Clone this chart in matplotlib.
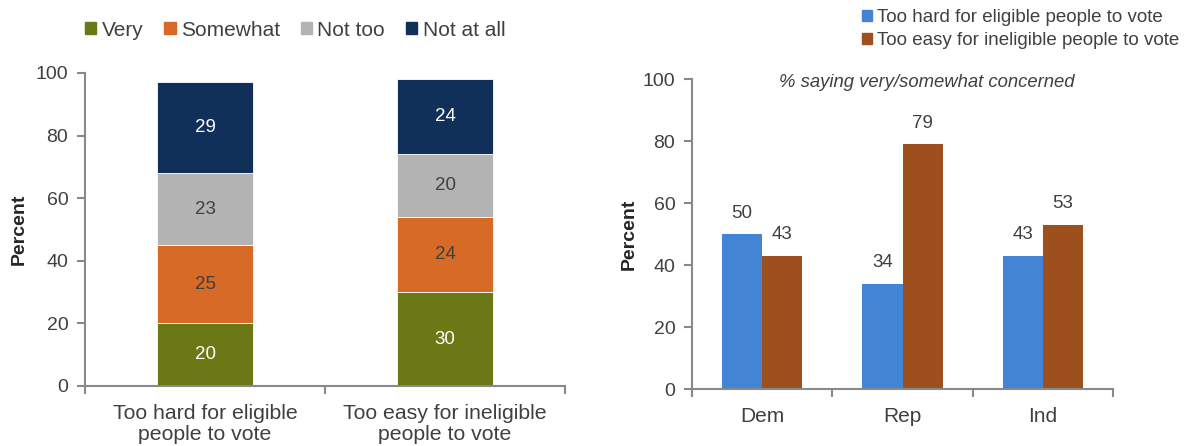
import matplotlib.pyplot as plt
from matplotlib.patches import Patch
import numpy as np

plt.rcParams['font.family'] = ['Liberation Sans', 'DejaVu Sans']

# left chart: how concerned
questions = ['Too hard for eligible\npeople to vote', 'Too easy for ineligible\npeople to vote']
levels = ['Very', 'Somewhat', 'Not too', 'Not at all']
very = [20, 30]
somewhat = [25, 24]
not_too = [23, 20]
not_at_all = [29, 24]
level_colors = ['#6a7815', '#d66a26', '#b3b3b3', '#10305a']

# right chart: by party
parties = ['Dem', 'Rep', 'Ind']
too_hard = [50, 34, 43]
too_easy = [43, 79, 53]
party_series = ['Too hard for eligible people to vote', 'Too easy for ineligible people to vote']
party_colors = ['#4484d5', '#9e4f1e']

text_color = '#404040'
axis_color = '#898989'

fig = plt.figure(figsize=(11.87, 4.46), dpi=100)
ax1 = fig.add_axes([85 / 1187, 1 - 386 / 446, 480 / 1187, 313 / 446])
ax2 = fig.add_axes([692 / 1187, 1 - 389 / 446, 421 / 1187, 310 / 446])


def style_axis(ax, ncat, xsize):
    for s in ['top', 'right']:
        ax.spines[s].set_visible(False)
    for s in ['left', 'bottom']:
        ax.spines[s].set_color(axis_color)
        ax.spines[s].set_linewidth(1.5)
    ax.set_ylim(0, 100)
    ax.set_yticks(range(0, 101, 20))
    ax.set_xlim(-0.5, ncat - 0.5)
    ax.set_xticks(np.arange(-0.5, ncat), minor=True)
    ax.tick_params(axis='x', which='major', length=0, pad=13, labelsize=xsize, labelcolor=text_color)
    ax.tick_params(axis='x', which='minor', length=6, width=1.5, color=axis_color)
    ax.tick_params(axis='y', length=6, width=1.5, color=axis_color, labelsize=14,
                   labelcolor=text_color, pad=6)
    ax.set_ylabel('Percent', fontsize=14, fontweight='bold', color='#262626')


# stacked bars
x1 = np.arange(len(questions))
bottom = np.zeros(len(questions))
for vals, name, col in zip([very, somewhat, not_too, not_at_all], levels, level_colors):
    bars = ax1.bar(x1, vals, width=0.4, bottom=bottom, color=col, edgecolor='white',
                   linewidth=0.6, label=name)
    lab_col = text_color if name in ('Somewhat', 'Not too') else 'white'
    ax1.bar_label(bars, labels=[str(v) for v in vals], label_type='center',
                  color=lab_col, fontsize=13.5)
    bottom += np.array(vals)
style_axis(ax1, len(questions), 15.3)
ax1.set_xticks(x1)
ax1.set_xticklabels(questions, linespacing=1.1)
ax1.yaxis.set_label_coords(-0.119, 0.5)

fig.legend(handles=[Patch(color=c, label=l) for c, l in zip(level_colors, levels)],
           loc='center', bbox_to_anchor=(295 / 1187, 1 - 30 / 446), ncol=4, frameon=False,
           fontsize=15, handlelength=0.55, handleheight=0.55, handletextpad=0.25,
           columnspacing=1.0, labelcolor=text_color)

# grouped bars
x2 = np.arange(len(parties))
w = 0.286
for i, (vals, name, col) in enumerate(zip([too_hard, too_easy], party_series, party_colors)):
    bars = ax2.bar(x2 + (i - 0.5) * w, vals, width=w, color=col, label=name)
    ax2.bar_label(bars, labels=[str(v) for v in vals], padding=9, color=text_color, fontsize=13.5)
style_axis(ax2, len(parties), 15)
ax2.set_xticks(x2)
ax2.set_xticklabels(parties)
ax2.yaxis.set_label_coords(-0.13, 0.5)
ax2.text(0.558, 0.99, '% saying very/somewhat concerned', transform=ax2.transAxes,
         ha='center', va='center', style='italic', fontsize=13.3, color=text_color)

fig.legend(handles=[Patch(color=c, label=l) for c, l in zip(party_colors, party_series)],
           loc='upper left', bbox_to_anchor=(845 / 1187, 1 + 8 / 446), ncol=1, frameon=False,
           fontsize=13.5, handlelength=0.55, handleheight=0.55, handletextpad=0.25,
           labelspacing=0.35, labelcolor=text_color)

plt.savefig('out.png', dpi=100)
